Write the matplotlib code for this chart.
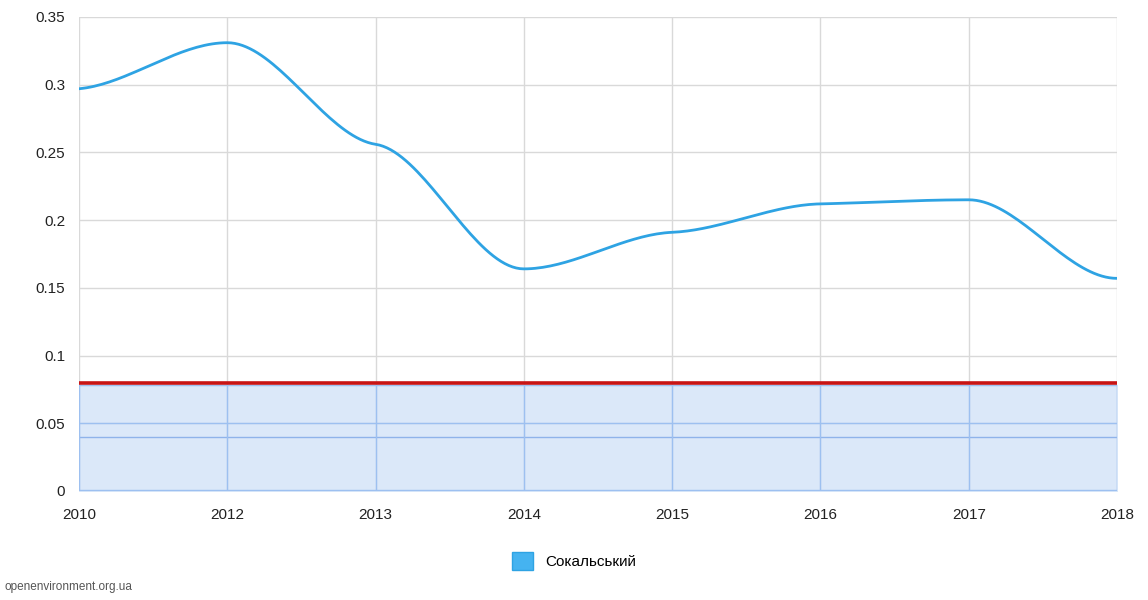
import numpy as np
import matplotlib.pyplot as plt
from matplotlib.patches import Patch

years = ["2010", "2012", "2013", "2014", "2015", "2016", "2017", "2018"]
values = [0.297, 0.331, 0.256, 0.164, 0.191, 0.212, 0.215, 0.157]
limit_value = 0.08
band_top = 0.078
band_line = 0.04
series_name = "Сокальський"


def smooth(x, y, k=0.2, n=40):
    # cubic hermite with damped tangents
    x = np.asarray(x, float)
    y = np.asarray(y, float)
    m = np.zeros_like(y)
    m[1:-1] = k * (y[2:] - y[:-2]) / (x[2:] - x[:-2])
    m[0] = 0.3 * (y[1] - y[0]) / (x[1] - x[0])
    m[-1] = 0.0
    d = np.diff(y) / np.diff(x)
    for i in range(1, len(y) - 1):
        if d[i - 1] * d[i] <= 0:
            m[i] = 0.0
    xs, ys = [], []
    for i in range(len(x) - 1):
        h = x[i + 1] - x[i]
        t = np.linspace(0, 1, n)
        h00 = 2 * t**3 - 3 * t**2 + 1
        h10 = t**3 - 2 * t**2 + t
        h01 = -2 * t**3 + 3 * t**2
        h11 = t**3 - t**2
        xs.append(x[i] + t * h)
        ys.append(h00 * y[i] + h10 * h * m[i] + h01 * y[i + 1] + h11 * h * m[i + 1])
    return np.concatenate(xs), np.concatenate(ys)


plt.rcParams['font.family'] = ['Liberation Sans', 'DejaVu Sans']

fig = plt.figure(figsize=(11.48, 6.0), dpi=100)
ax = fig.add_axes([0.0688, 0.1817, 0.9042, 0.79])

pos = np.arange(len(years))
xs, ys = smooth(pos, values)

band_color = '#9dc0f0'
ax.fill_between([pos[0], pos[-1]], 0, band_top, color='#c8dcf7', alpha=0.65, zorder=2)
ax.plot([pos[0], pos[-1]], [band_top, band_top], color=band_color, lw=1, zorder=3)
ax.plot([pos[0], pos[-1]], [0.05, 0.05], color=band_color, lw=1, zorder=3)
ax.plot([pos[0], pos[-1]], [0.001, 0.001], color=band_color, lw=1, zorder=3)
ax.axhline(band_line, color='#8fb3ea', lw=1, zorder=3)
for p in pos:
    ax.plot([p, p], [0, band_top], color=band_color, lw=1, zorder=3)
ax.axhline(limit_value, color='#c81414', lw=2.6, zorder=4)
ax.plot(xs, ys, color='#2ea3e3', lw=2, zorder=5)

ax.set_xlim(pos[0], pos[-1])
ax.set_ylim(0, 0.35)
ax.set_xticks(pos)
ax.set_xticklabels(years)
ax.set_yticks(np.arange(0, 0.351, 0.05))
ax.set_yticklabels(["0", "0.05", "0.1", "0.15", "0.2", "0.25", "0.3", "0.35"])
ax.grid(True, color='#d9d9d9', lw=1)
ax.set_axisbelow(True)
for s in ax.spines.values():
    s.set_visible(False)
ax.tick_params(length=0, labelsize=11, colors='#222222', pad=10)
ax.tick_params(axis='x', pad=12)

handle = Patch(facecolor='#45b3f0', edgecolor='#2ea3e3', label=series_name)
fig.legend(handles=[handle], loc='center', bbox_to_anchor=(0.5, 0.065), frameon=False,
           fontsize=11, handlelength=1.4, handleheight=1.4)

fig.text(0.004, 0.017, "openenvironment.org.ua", fontsize=8.5, color='#555555')

fig.savefig("out.png", dpi=100)
